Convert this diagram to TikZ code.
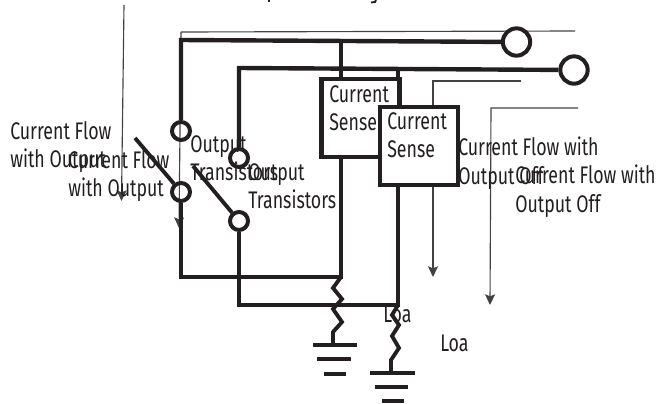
\documentclass[tikz,border=0pt]{standalone}
\usepackage{fontspec}
\setmainfont[FakeStretch=0.74]{Fira Sans}
\usetikzlibrary{arrows.meta}
\definecolor{ink}{HTML}{231F20}
\tikzset{
  px/.style={x=0.75pt,y=-0.75pt},
  thickwire/.style={draw=ink,line width=3.3pt,line join=miter},
  lowwire/.style={draw=ink,line width=2.9pt,line join=miter},
  thinwire/.style={draw=ink!85,line width=0.85pt},
  flow/.style={thinwire,-{Stealth[length=8pt,width=7.5pt,inset=1.5pt]}},
  contact/.style={circle,draw=ink,line width=3pt,minimum size=13.5pt,inner sep=0pt},
  terminal/.style={circle,draw=ink,line width=3pt,fill=white,minimum size=20.5pt,inner sep=0pt},
  sensebox/.style={rectangle,draw=ink,line width=3.2pt,fill=white,inner sep=0pt,minimum width=58.5pt,minimum height=58.5pt},
  lbl/.style={text=ink,font=\fontsize{18pt}{21.4pt}\selectfont,inner sep=0pt,align=left,anchor=north west},
}
\begin{document}
\begin{tikzpicture}[px]
\useasboundingbox (0,0) rectangle (658,404);
% clipped heading traces
\draw[ink,line width=1.6pt] (269,0) -- (269,2);
\draw[ink,line width=1.4pt] (376,0) -- (375,2) -- (371,2.5);
% named points
\coordinate (tl) at (181,32);
\coordinate (tr) at (575,31);
\coordinate (ta) at (179,228);
\coordinate (fa0) at (124,5);
\coordinate (fa1) at (121.5,201);
\coordinate (a0) at (521,81);
\coordinate (a1) at (433,81);
\coordinate (a2) at (433,277);
\coordinate (b0) at (578,108);
\coordinate (b1) at (491,108);
\coordinate (b2) at (490,305);
\coordinate (k1) at (181,40);
\coordinate (k2) at (341,40);
\coordinate (k3) at (239,68);
\coordinate (k4) at (398,68);
\coordinate (j1) at (181,277);
\coordinate (j2) at (341,277);
\coordinate (j3) at (239,305);
\coordinate (j4) at (398,305);
\coordinate (sw1) at (135,138);
\coordinate (sw2) at (193,166);
\coordinate (g1) at (333,345);
\coordinate (g2) at (391,373);
% thin flow lines behind
\draw[flow] (fa0) -- (fa1);
\draw[thinwire] (tr) -- (tl);
\draw[flow] (tl) -- (ta);
\draw[flow] (a0) -- (a1) -- (a2);
\draw[flow] (b0) -- (b1) -- (b2);
% contacts and terminals
\node[contact] (c1) at (181,131) {};
\node[contact] (c2) at (181,192) {};
\node[contact] (c3) at (239,158) {};
\node[contact] (c4) at (239,221) {};
\node[terminal] (t1) at (516.5,42) {};
\node[terminal] (t2) at (574,70) {};
% wiring
\draw[thickwire] (t1) -- (k1) -- (c1);
\draw[thickwire] (t2) -- (k3) -- (c3);
\draw[thickwire] (k2) -- (341,90);
\draw[thickwire] (k4) -- (398,120);
\draw[lowwire] (c2) -- (j1) -- (j2) -- (341,150);
\draw[lowwire] (c4) -- (j3) -- (j4) -- (398,180);
\draw[lowwire] (sw1) -- (c2);
\draw[lowwire] (sw2) -- (c4);
% sense boxes
\node[sensebox] (s1) at (360.5,118) {};
\node[sensebox] (s2) at (419,146) {};
% loads
\draw[lowwire] (j2) -- (333,288) -- (342,299) -- (333,309) -- (342,322) -- (333,332) -- (g1);
\draw[lowwire] (j4) -- (392,315) -- (399,325) -- (392,336) -- (399,348) -- (391,360) -- (g2);
% grounds
\coordinate (g1a) at (313,345); \coordinate (g1b) at (357,345);
\coordinate (g1c) at (317,359); \coordinate (g1d) at (351,359);
\coordinate (g1e) at (324,374); \coordinate (g1f) at (346,374);
\coordinate (g2a) at (370,373); \coordinate (g2b) at (415,373);
\coordinate (g2c) at (375,387); \coordinate (g2d) at (408,387);
\coordinate (g2e) at (382,401); \coordinate (g2f) at (404,401);
\draw[lowwire] (g1a) -- (g1b) (g1c) -- (g1d) (g1e) -- (g1f);
\draw[lowwire] (g2a) -- (g2b) (g2c) -- (g2d) (g2e) -- (g2f);
% labels
\node[lbl] (l1) at (10,121) {Current Flow\\with Output};
\node[lbl] (l2) at (68,150) {Current Flow\\with Output};
\node[lbl] (l3) at (190,135) {Output\\Transistors};
\node[lbl] (l4) at (248,163) {Output\\Transistors};
\node[lbl] (l5) at (329,85) {Current\\Sense};
\node[lbl] (l6) at (387,112) {Current\\Sense};
\node[lbl] (l7) at (458,137) {Current Flow with\\Output Off};
\node[lbl] (l8) at (515,165) {Current Flow with\\Output Off};
\node[lbl] (l9) at (383,306) {Loa};
\node[lbl] (l10) at (440,335) {Loa};
\end{tikzpicture}
\end{document}
